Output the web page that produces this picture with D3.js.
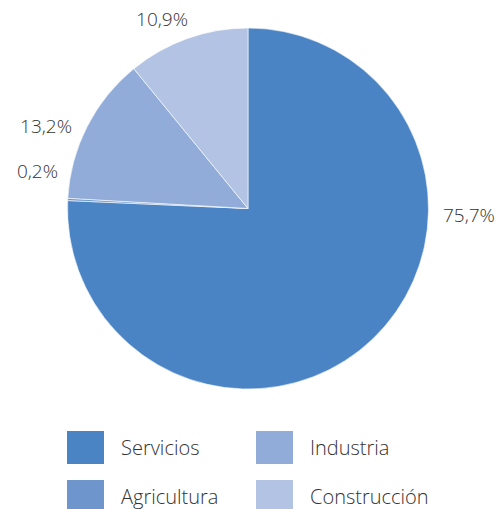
<!DOCTYPE html>
<html><head><meta charset="utf-8">
<script src="https://cdn.jsdelivr.net/npm/d3@7"></script>
<style>body{margin:0;background:#fff;} text{font-family:"Open Sans",sans-serif;font-weight:300;fill:#333;}</style>
</head><body>
<svg id="c" width="497" height="509"></svg>
<script>
const categories = ["Servicios","Agricultura","Industria","Construcción"];
const values = [75.7, 0.2, 13.2, 10.9];
const labels = ["75,7%","0,2%","13,2%","10,9%"];
const colors = ["#4a84c4","#6e96cc","#91acd9","#b2c3e3"];

const svg = d3.select("#c");
const cx = 248, cy = 208.5, r = 180.5;
const pie = d3.pie().sort(null).value(d => d)(values);
const arc = d3.arc().innerRadius(0).outerRadius(r);
const g = svg.append("g").attr("transform", `translate(${cx},${cy})`);
g.selectAll("path").data(pie).join("path")
  .attr("d", arc).attr("fill", (d,i) => colors[i])
  .attr("stroke", "#fff").attr("stroke-width", 0.6);

const lblPos = [[443,222,"start"],[58,178,"end"],[72,133,"end"],[188,26,"end"]];
labels.forEach((t,i) => {
  svg.append("text").attr("x", lblPos[i][0]).attr("y", lblPos[i][1])
    .attr("text-anchor", lblPos[i][2]).attr("font-size", 19).text(t);
});

const legX = [67, 256], legY = [431, 480];
const order = [[0,0,0],[1,0,1],[2,1,0],[3,1,1]];
order.forEach(([i,col,row]) => {
  svg.append("rect").attr("x", legX[col]).attr("y", legY[row])
    .attr("width", 37).attr("height", 33).attr("fill", colors[i]);
  svg.append("text").attr("x", legX[col] + 54).attr("y", legY[row] + 24)
    .attr("font-size", 20).text(categories[i]);
});
</script>
</body></html>
